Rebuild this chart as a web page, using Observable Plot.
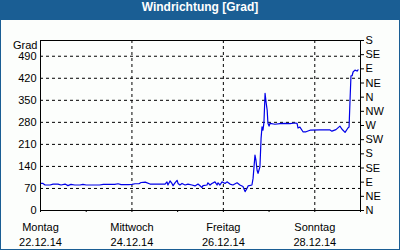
<!DOCTYPE html>
<html>
<head>
<meta charset="utf-8">
<script src="https://cdn.jsdelivr.net/npm/d3@7"></script>
<script src="https://cdn.jsdelivr.net/npm/@observablehq/plot@0.6"></script>
<style>
  html, body { margin: 0; padding: 0; background: #fff; }
  #wrap { width: 400px; height: 250px; box-sizing: border-box; border: 1px solid #1a5e94; border-top: none; background: #fcfefc; overflow: hidden; }
  #title { height: 20px; line-height: 20px; background: #1a5e94; color: #fff; text-align: center; font: bold 12px "Liberation Sans", Arial, sans-serif; margin: 0 -1px; }
  svg { display: block; }
</style>
</head>
<body>
<div id="wrap"><div id="title">Windrichtung [Grad]</div><div id="chart"></div></div>
<script>
// hours since 22.12.14 00:00
const hours = [
  0, 1.3, 2.4, 5, 6.6, 9.2, 10.8, 12.9, 14.4, 16,
  18, 20.7, 22.3, 24, 31, 33, 39, 40.7, 42.3, 46,
  48, 49.6, 51.7, 52.8, 55, 57.5, 60.1, 62.7, 65.4, 66.4,
  66.9, 68, 69, 69.6, 70.6, 71.7, 72.2, 73.2, 74.3, 75.9,
  77.4, 79.5, 81.1, 82.7, 84.8, 85.3, 87.4, 87.9, 89, 90,
  91.6, 92.7, 93.2, 94.2, 95.3, 96.9, 97.9, 99.5, 101, 103.2,
  104.7, 106.3, 107.4, 108.4, 109, 111, 111.6, 112.6, 113.1, 113.7,
  114.2, 115.2, 115.8, 116.3, 116.8, 117.3, 117.9, 118.4, 119, 119.4,
  120, 120.5, 123.1, 125.7, 128.4, 131, 133.6, 134.7, 135.2, 136.2,
  137.8, 139.4, 141.5, 146.7, 152, 153, 155.1, 157.2, 158.3, 159.9,
  161.4, 162, 162.5, 163, 163.6, 164.1, 165.1, 166.2, 166.7
];
const values = [
  86, 86, 81, 81, 84, 84, 81, 84, 79, 83,
  81, 81, 83, 81, 81, 83, 83, 85, 82, 82,
  83, 85, 85, 89, 90, 84, 84, 84, 84, 91,
  81, 94, 86, 79, 88, 96, 86, 81, 86, 81,
  84, 81, 78, 84, 73, 79, 81, 88, 81, 86,
  91, 81, 88, 81, 91, 86, 91, 84, 81, 88,
  81, 76, 60, 70, 78, 81, 102, 176, 160, 128,
  118, 139, 229, 266, 255, 279, 372, 345, 319, 277,
  268, 277, 274, 276, 277, 276, 278, 277, 262, 265,
  250, 250, 255, 256, 256, 252, 257, 268, 258, 248,
  262, 265, 350, 428, 428, 440, 446, 443, 447
];
const leftTicks = [0, 70, 140, 210, 280, 350, 420, 490];
const rightTicks = [0, 45, 90, 135, 180, 225, 270, 315, 360, 405, 450, 495, 540];
const dirLabels = ["N", "NE", "E", "SE", "S", "SW", "W", "NW", "N", "NE", "E", "SE", "S"];
const dayStrings = ["2014-12-22", "2014-12-23", "2014-12-24", "2014-12-25", "2014-12-26", "2014-12-27", "2014-12-28", "2014-12-29"];
const labelDayStrings = ["2014-12-22", "2014-12-24", "2014-12-26", "2014-12-28"];
const dayNames = ["Montag", "Mittwoch", "Freitag", "Sonntag"];
const dateLabels = ["22.12.14", "24.12.14", "26.12.14", "28.12.14"];
const gridDayStrings = ["2014-12-24", "2014-12-26", "2014-12-28"];

const start = Date.UTC(2014, 11, 22);
const data = hours.map((h, i) => ({t: new Date(start + h * 3600e3), v: values[i]}));
const toDate = s => new Date(s + "T00:00:00Z");
const dayTicks = dayStrings.map(toDate);
const labelTicks = labelDayStrings.map(toDate);
const gridTicks = gridDayStrings.map(toDate);
const dirMap = new Map(rightTicks.map((v, i) => [v, dirLabels[i]]));
const labelMap = new Map(labelTicks.map((d, i) => [+d, dayNames[i] + "\n" + dateLabels[i]]));

const chart = Plot.plot({
  width: 398, height: 229,
  marginLeft: 39, marginRight: 39, marginTop: 20, marginBottom: 39,
  style: {fontFamily: "'Liberation Sans', Arial, sans-serif", fontSize: "11px", background: "transparent", color: "black"},
  x: {type: "utc", domain: [dayTicks[0], dayTicks[dayTicks.length - 1]]},
  y: {domain: [0, 540]},
  marks: [
    Plot.gridY(leftTicks.slice(1), {stroke: "black", strokeOpacity: 1, strokeDasharray: "3,3"}),
    Plot.gridX(gridTicks, {stroke: "black", strokeOpacity: 1, strokeDasharray: "3,3"}),
    Plot.line(data, {x: "t", y: "v", stroke: "#0000e8", strokeWidth: 1.2}),
    Plot.frame({stroke: "black"}),
    Plot.axisY(leftTicks, {anchor: "left", tickSize: 0, tickPadding: 4, label: null}),
    Plot.axisY(rightTicks, {anchor: "right", tickSize: 3, tickPadding: 2, tickFormat: d => dirMap.get(d), label: null}),
    Plot.axisX(dayTicks, {anchor: "bottom", tickSize: 2, tickFormat: () => "", label: null}),
    Plot.axisX(labelTicks, {anchor: "bottom", tickSize: 0, tickPadding: 9, tickFormat: d => labelMap.get(+d), lineHeight: 1.43, label: null}),
    Plot.text(["Grad"], {text: d => d, frameAnchor: "top-left", textAnchor: "end", dx: -3, dy: 1})
  ]
});
document.getElementById("chart").appendChild(chart);
</script>
</body>
</html>
